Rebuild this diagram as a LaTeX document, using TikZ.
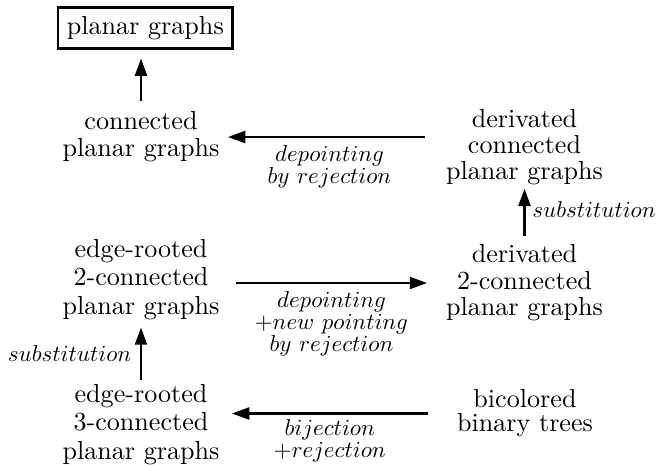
\documentclass[tikz,border=0pt]{standalone}
\usetikzlibrary{arrows.meta,calc}
\tikzset{
  txt/.style={align=center, inner sep=0pt, font=\fontsize{10}{#1}\selectfont},
  lab/.style={align=center, inner sep=0pt, font=\fontsize{10}{9.58}\selectfont, scale=0.88},
  arr/.style={line width=0.85pt, -{Triangle[length=6.6pt,width=4.6pt]}},
  boxed/.style={draw, line width=0.85pt, inner sep=3.33pt, font=\fontsize{10}{12}\selectfont}
}
\begin{document}
\begin{tikzpicture}[x=0.383pt,y=-0.383pt]
\useasboundingbox (0,0) rectangle (658,464);
\node[boxed] (pg) at (145.3,28) {planar graphs};
\node[txt=10.34pt] (cpg) at (141,137) {connected\\planar graphs};
\node[txt=9.96pt] (dcpg) at (524.5,147.5) {derivated\\connected\\planar graphs};
\node[txt=10.15pt] (d2cpg) at (524.5,283) {derivated\\2-connected\\planar graphs};
\node[txt=11.0pt] (e2cpg) at (141,279.5) {edge-rooted\\2-connected\\planar graphs};
\node[txt=11.0pt] (e3cpg) at (141,424.5) {edge-rooted\\3-connected\\planar graphs};
\node[txt=9.2pt] (bbt) at (525,413.5) {bicolored\\binary trees};

\draw[arr] ($(cpg.north)+(0,-10)$) -- ($(cpg.north |- pg.south)+(0,9)$);
\draw[arr] ($(dcpg.west |- cpg.east)+(-20.5,0)$) -- ($(cpg.east)+(8,0)$)
  node[lab, midway, below=3.4pt, xshift=1.3pt] {$depointing$\\$by\ rejection$};
\draw[arr] ($(d2cpg.north)+(0,-8)$) -- ($(d2cpg.north |- dcpg.south)+(0,3)$)
  node[lab, midway, right=3pt, yshift=1.3pt] {$substitution$};
\draw[arr] ($(e2cpg.east |- d2cpg.west)+(16,0)$) -- ($(d2cpg.west)+(-18.5,0)$)
  node[lab, midway, below=3.4pt] {$depointing$\\$+new\ pointing$\\$by\ rejection$};
\draw[arr] ($(e3cpg.north)+(0,-4)$) -- ($(e3cpg.north |- e2cpg.south)+(0,7)$)
  node[lab, midway, left=3.8pt] {$substitution$};
\draw[arr] ($(bbt.west)+(-29,0)$) -- ($(e3cpg.east |- bbt.west)+(12,0)$)
  node[lab, midway, below=2.3pt] {$bijection$\\$+rejection$};
\end{tikzpicture}
\end{document}
